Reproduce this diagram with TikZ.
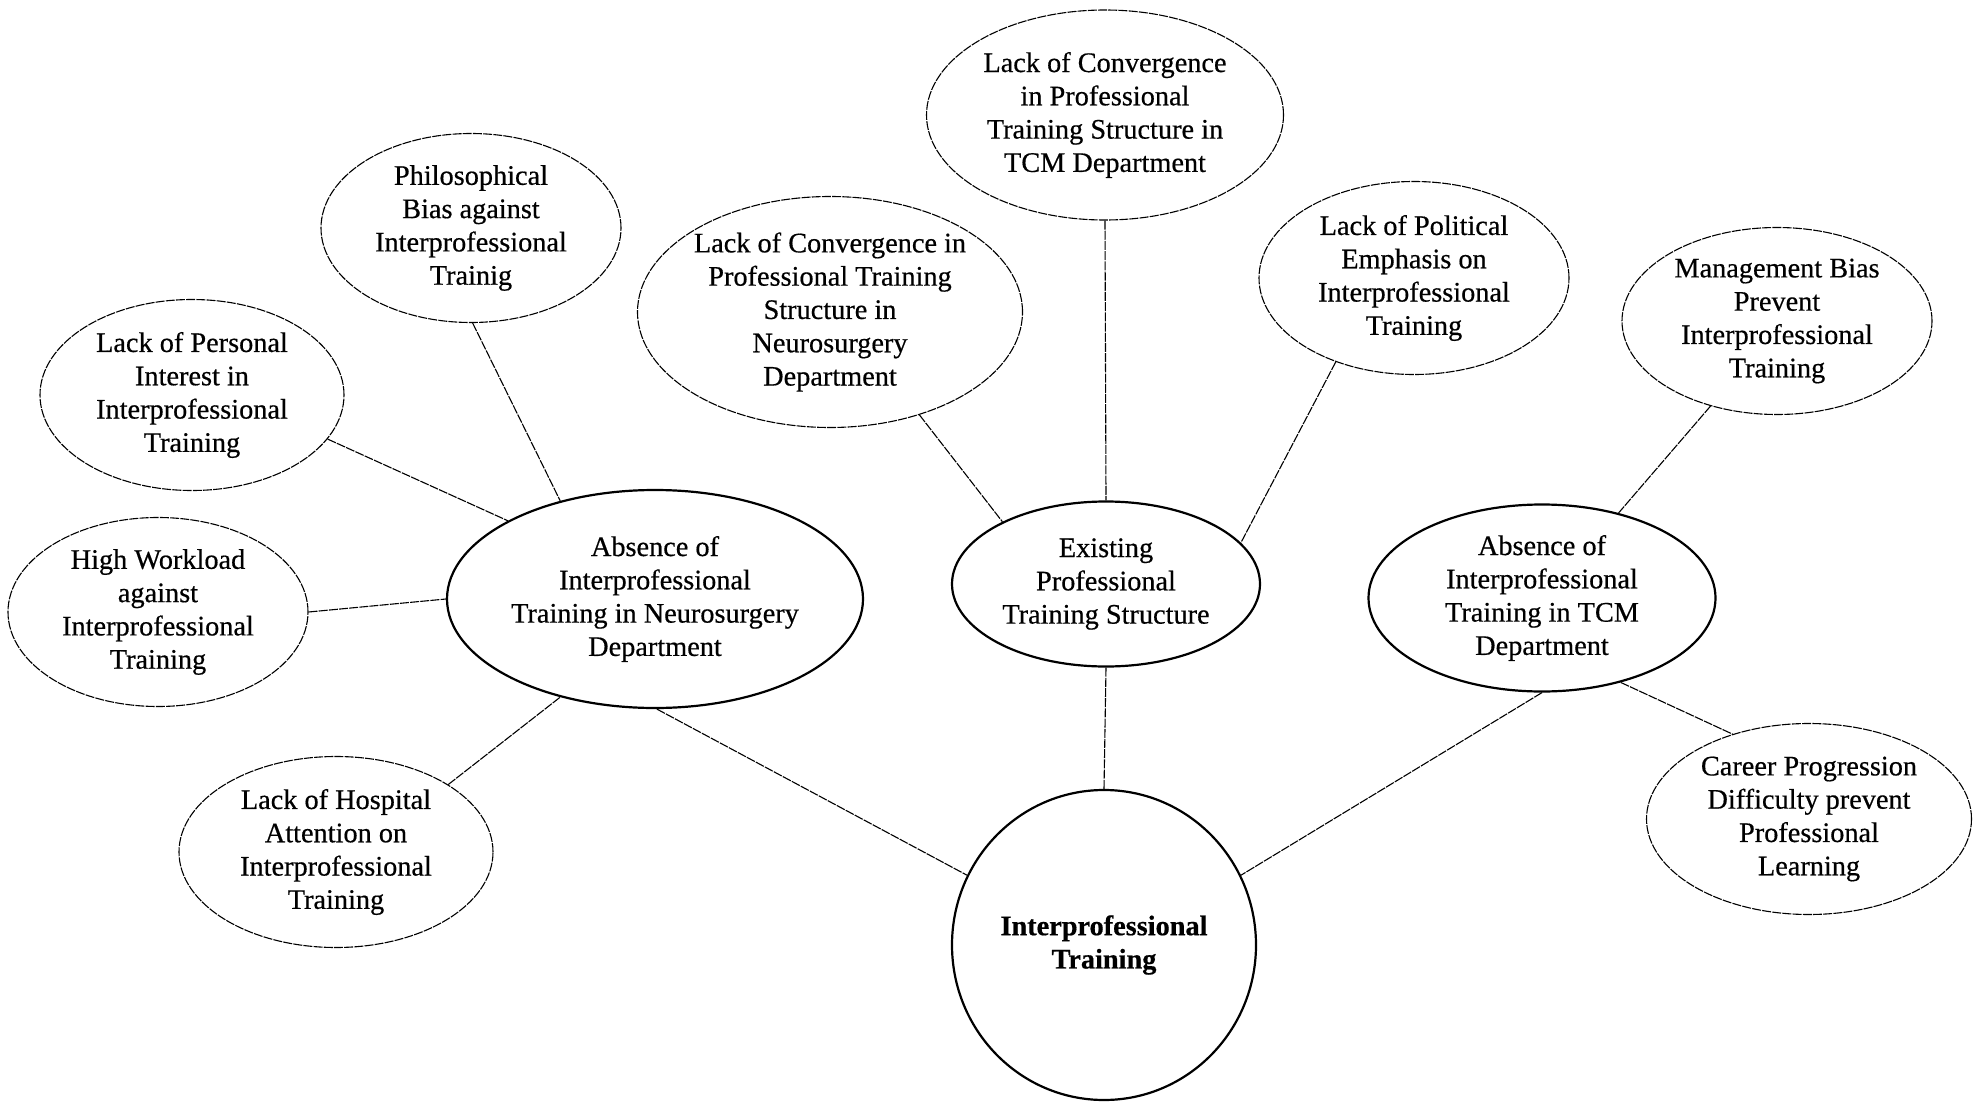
\documentclass[tikz,border=0pt]{standalone}
\usepackage{fontspec}
\setmainfont{Liberation Serif}[RawFeature={embolden=0.5}]
\usetikzlibrary{shapes.geometric}
\begin{document}
\begin{tikzpicture}[x=1pt,y=-1pt,
  bubble/.style={ellipse, draw=black, line width=1.1pt, dash pattern=on 9pt off 1.2pt, inner sep=0pt},
  hub/.style={ellipse, draw=black, line width=2.2pt, inner sep=0pt},
  lbl/.style={align=center, font=\fontsize{28.3}{33.3}\selectfont, inner sep=0pt},
  link/.style={line width=1.1pt, dash pattern=on 9pt off 1.2pt}]
\useasboundingbox (0,0) rectangle (1979,1105);
\fill[white] (0,0) rectangle (1979,1105);

% outer cause bubbles
\node[bubble, minimum width=300pt, minimum height=189pt] (phil)   at (471,228)  {};
\node[bubble, minimum width=304pt, minimum height=191pt] (pers)   at (192,395)  {};
\node[bubble, minimum width=300pt, minimum height=189pt] (work)   at (158,612)  {};
\node[bubble, minimum width=314pt, minimum height=191pt] (hosp)   at (336,852)  {};
\node[bubble, minimum width=385pt, minimum height=231pt] (convN)  at (830,312)  {};
\node[bubble, minimum width=357pt, minimum height=210pt] (convT)  at (1105,115) {};
\node[bubble, minimum width=310pt, minimum height=193pt] (poli)   at (1414,278) {};
\node[bubble, minimum width=310pt, minimum height=187pt] (mgmt)   at (1777,321) {};
\node[bubble, minimum width=325pt, minimum height=191pt] (career) at (1809,819) {};

% hub ellipses
\node[hub, minimum width=416pt, minimum height=218pt] (absN)  at (655,599)  {};
\node[hub, minimum width=308pt, minimum height=165pt] (exist) at (1106,584) {};
\node[hub, minimum width=347pt, minimum height=187pt] (absT)  at (1542,598) {};
\node[hub, minimum width=304pt, minimum height=310pt] (it)    at (1104,945) {};

% texts
\node[lbl] (phil-t)   at (phil)   {Philosophical\\Bias against\\Interprofessional\\Trainig};
\node[lbl] (pers-t)   at (pers)   {Lack of Personal\\Interest in\\Interprofessional\\Training};
\node[lbl] (work-t)   at (work)   {High Workload\\against\\Interprofessional\\Training};
\node[lbl] (hosp-t)   at (hosp)   {Lack of Hospital\\Attention on\\Interprofessional\\Training};
\node[lbl] (convN-t)  at (convN)  {Lack of Convergence in\\Professional Training\\Structure in\\Neurosurgery\\Department};
\node[lbl] (convT-t)  at (convT)  {Lack of Convergence\\in Professional\\Training Structure in\\TCM Department};
\node[lbl] (poli-t)   at (poli)   {Lack of Political\\Emphasis on\\Interprofessional\\Training};
\node[lbl] (mgmt-t)   at (mgmt)   {Management Bias\\Prevent\\Interprofessional\\Training};
\node[lbl] (career-t) at (career) {Career Progression\\Difficulty prevent\\Professional\\Learning};
\node[lbl] (absN-t)   at (absN)   {Absence of\\Interprofessional\\Training in Neurosurgery\\Department};
\node[lbl] (exist-t)  at (exist)  {Existing\\Professional\\Training Structure};
\node[lbl] (absT-t)   at (absT)   {Absence of\\Interprofessional\\Training in TCM\\Department};
\node[lbl, font=\fontsize{28.3}{33.3}\selectfont\bfseries] (it-t) at (it) {Interprofessional\\Training};

% connectors
\draw[link] (phil.271)   -- (absN.134);
\draw[link] (pers.342)   -- (absN.152);
\draw[link] (work.0)     -- (absN.180);
\draw[link] (hosp.31)    -- (absN.226);
\draw[link] (absN.271)   -- (it.153);
\draw[link] (convN.311)  -- (exist.149);
\draw[link] (convT.south) -- (exist.north);
\draw[link] (poli.227)   -- (exist.17);
\draw[link] (exist.south) -- (it.north);
\draw[link] (mgmt.232)   -- (absT.48);
\draw[link] (absT.south) -- (it.27);
\draw[link] (absT.313)   -- (career.132);
\end{tikzpicture}
\end{document}
